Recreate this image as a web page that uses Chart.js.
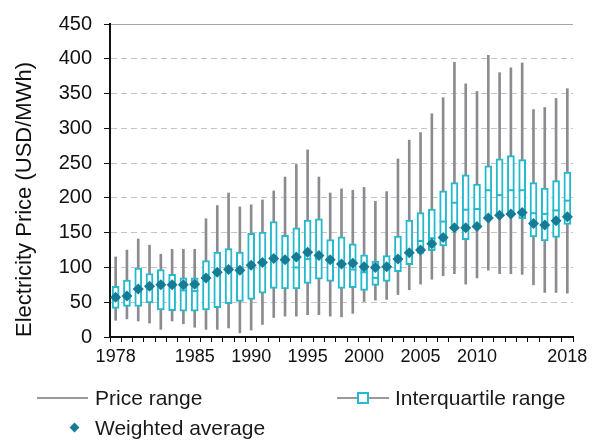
<!DOCTYPE html>
<html lang="en">
<head>
  <meta charset="UTF-8">
  <title>Electricity Price</title>
  <script src="https://cdn.jsdelivr.net/npm/chart.js"></script>
  <style>
    body { margin: 0; background: #fff; font-family: "Liberation Sans", Arial, sans-serif; }
    #wrap { position: relative; width: 595px; height: 440px; }
    .leg { position: absolute; font-size: 21px; color: #1a1a1a; line-height: 24px; white-space: nowrap; }
    .line { position: absolute; height: 2px; background: #9a9a9a; }
    .sq { position: absolute; width: 8px; height: 8px; border: 2px solid #25b9cc; background: #fff; }
    .dia { position: absolute; width: 7px; height: 7px; background: #167b95; transform: rotate(45deg); }
  </style>
</head>
<body>
  <div id="wrap">
    <canvas id="priceChart" width="595" height="440"></canvas>

    <div class="line" style="left:37px; top:397px; width:51px;"></div>
    <div class="leg" style="left:95px; top:386px;">Price range</div>

    <div class="line" style="left:337px; top:397px; width:52px;"></div>
    <div class="sq" style="left:357px; top:392px;"></div>
    <div class="leg" style="left:395px; top:386px;">Interquartile range</div>

    <div class="dia" style="left:71px; top:424px;"></div>
    <div class="leg" style="left:95px; top:416px;">Weighted average</div>
  </div>

  <script>
    const years = [];
    for (let y = 1978; y <= 2018; y++) years.push(y);

    const xTickLabels = [1978, 1985, 1990, 1995, 2000, 2005, 2010, 2018];

    const minPrice = [24, 26, 23, 20, 11, 23, 19, 14, 11, 11, 13, 6, 10, 18, 28, 30, 30, 32, 32, 30, 29,
      34, 51, 53, 54, 61, 68, 76, 83, 88, 91, 76, 85, 96, 91, 91, 90, 75, 64, 64, 63];
    const q1Price = [41, 44, 44, 49, 39, 38, 37, 37, 39, 42, 48, 51, 54, 63, 70, 69, 69, 77, 83, 80, 70,
      71, 67, 74, 80, 94, 104, 120, 124, 131, 157, 140, 159, 171, 175, 177, 170, 144, 138, 143, 162];
    const medianPrice = [55, 58, 68, 72, 74, 74, 67, 66, 84, 92, 96, 95, 102, 106, 112, 110, 100, 112, 116, 110, 104,
      97, 93, 85, 98, 112, 121, 138, 142, 166, 193, 183, 184, 211, 204, 211, 211, 178, 177, 182, 196];
    const q3Price = [73, 82, 99, 91, 97, 90, 85, 85, 110, 122, 127, 122, 149, 151, 166, 146, 157, 168, 170, 140, 144,
      134, 118, 109, 117, 145, 168, 179, 184, 210, 222, 233, 220, 246, 256, 261, 255, 222, 214, 225, 237];
    const maxPrice = [115, 125, 141, 132, 119, 126, 126, 126, 170, 189, 207, 187, 190, 197, 210, 230, 248, 269, 230, 207, 213,
      211, 215, 195, 209, 256, 283, 294, 321, 344, 395, 364, 353, 405, 380, 387, 394, 327, 330, 343, 357];
    const weightedAvg = [57, 59, 69, 73, 75, 75, 75, 76, 85, 93, 97, 96, 103, 107, 113, 111, 115, 122, 117, 111, 105,
      106, 101, 100, 101, 112, 121, 125, 134, 143, 157, 157, 159, 171, 175, 177, 179, 163, 161, 167, 173];

    const fontFamily = '"Liberation Sans", Arial, sans-serif';

    const ctx = document.getElementById('priceChart').getContext('2d');
    new Chart(ctx, {
      data: {
        labels: years,
        datasets: [
          {
            type: 'line',
            label: 'Weighted average',
            data: weightedAvg,
            showLine: false,
            pointStyle: 'rectRot',
            pointRadius: 5.5,
            pointBackgroundColor: '#167b95',
            pointBorderColor: '#167b95',
            pointBorderWidth: 0,
            order: 0
          },
          {
            type: 'line',
            label: 'Median',
            data: medianPrice,
            showLine: false,
            pointStyle: 'line',
            pointRadius: 3.5,
            pointBorderColor: '#25b9cc',
            pointBorderWidth: 2,
            order: 1
          },
          {
            type: 'bar',
            label: 'Interquartile range',
            data: q1Price.map((v, i) => [v, q3Price[i]]),
            backgroundColor: '#ffffff',
            borderColor: '#25b9cc',
            borderWidth: 2,
            borderSkipped: false,
            barThickness: 7,
            grouped: false,
            order: 2
          },
          {
            type: 'bar',
            label: 'Price range',
            data: minPrice.map((v, i) => [v, maxPrice[i]]),
            backgroundColor: '#8c8c90',
            borderWidth: 0,
            barThickness: 2,
            grouped: false,
            order: 3
          }
        ]
      },
      options: {
        responsive: false,
        animation: false,
        devicePixelRatio: 1,
        layout: { padding: { top: 21, right: 22, left: 0, bottom: 0 } },
        plugins: {
          legend: { display: false },
          tooltip: { enabled: false }
        },
        scales: {
          x: {
            type: 'category',
            offset: true,
            afterFit: (scale) => { scale.height = 103; },
            grid: {
              offset: true,
              drawOnChartArea: true,
              color: (c) => c.index === years.length ? '#a6a6a6' : 'rgba(0,0,0,0)',
              tickColor: '#000',
              tickLength: 5,
              lineWidth: 1
            },
            border: { color: '#111', width: 2 },
            ticks: {
              autoSkip: false,
              maxRotation: 0,
              padding: 4,
              color: '#111',
              font: { family: fontFamily, size: 18 },
              callback: (val, i) => xTickLabels.includes(years[i]) ? String(years[i]) : ''
            }
          },
          y: {
            min: 0,
            max: 450,
            afterFit: (scale) => { scale.width = 110; },
            grid: {
              color: (c) => {
                if (!c.tick) return '#c8c8c8';
                if (c.tick.value === 0) return 'rgba(0,0,0,0)';
                if (c.tick.value === 450) return '#a6a6a6';
                return '#c4c4c4';
              },
              tickColor: '#111',
              tickLength: 6,
              lineWidth: 1
            },
            border: {
              color: '#111',
              width: 2,
              dash: (c) => (c.tick && c.tick.value > 0 && c.tick.value < 450) ? [6, 4] : []
            },
            ticks: {
              stepSize: 50,
              padding: 12,
              color: '#111',
              font: { family: fontFamily, size: 20 }
            },
            title: {
              display: true,
              text: 'Electricity Price (USD/MWh)',
              align: 'start',
              color: '#111',
              font: { family: fontFamily, size: 22 },
              padding: { top: 12, bottom: 0 }
            }
          }
        }
      }
    });
  </script>
</body>
</html>
